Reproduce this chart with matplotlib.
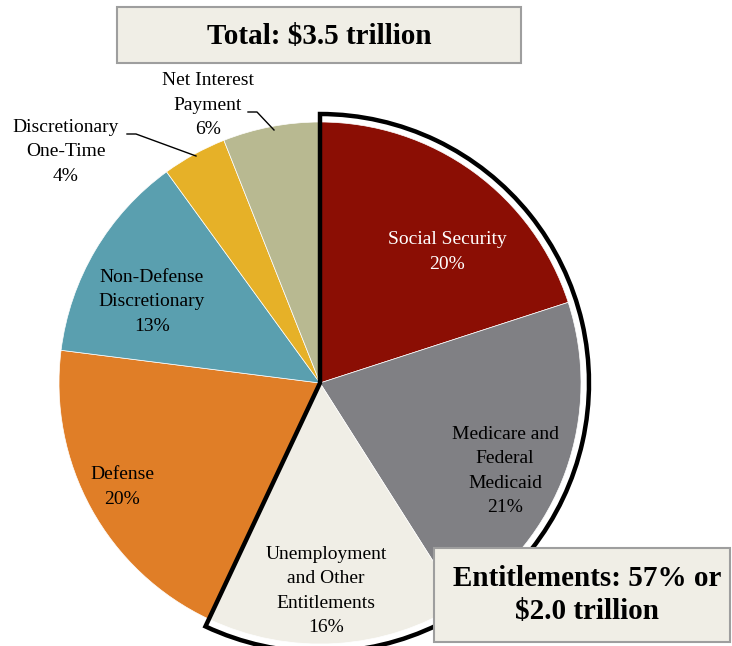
import numpy as np
import matplotlib.pyplot as plt
from matplotlib.patches import Wedge

plt.rcParams['font.family'] = ['Liberation Serif', 'DejaVu Serif']

# slices, clockwise from 12 o'clock
labels = ["Social Security\n20%", "Medicare and\nFederal\nMedicaid\n21%",
          "Unemployment\nand Other\nEntitlements\n16%", "Defense\n20%",
          "Non-Defense\nDiscretionary\n13%", "Discretionary\nOne-Time\n4%",
          "Net Interest\nPayment\n6%"]
shares = [20, 21, 16, 20, 13, 4, 6]
colors = ["#8B0E04", "#808084", "#F0EEE6", "#E07E27", "#5A9FAF", "#E6B128", "#B8B991"]
entitlement_share = 57

W, H = 732, 646
fig = plt.figure(figsize=(W / 100, H / 100), dpi=100)
ax = fig.add_axes([0, 0, 1, 1])

cx, cy, r = 320, H - 383, 261

ax.pie(shares, colors=colors, startangle=90, counterclock=False,
       center=(cx, cy), radius=r,
       wedgeprops=dict(edgecolor="white", linewidth=0.5))

# outline around the entitlement slices
ent_angle = 360 * entitlement_share / sum(shares)
ax.add_patch(Wedge((cx, cy), r + 8, 90 - ent_angle, 90, fill=False,
                   edgecolor="black", linewidth=3.2, zorder=5))

# label positions (pixels from top-left)
label_pos = [(447, 252), (505, 471), (326, 591), (122, 487),
             (152, 302), (66, 152), (208, 105)]
for text, (x, y), c in zip(labels, label_pos, colors):
    col = "white" if c == "#8B0E04" else "black"
    ax.text(x, H - y, text, ha="center", va="center", fontsize=14,
            linespacing=1.55, color=col, zorder=6)

# leader lines
ax.plot([248, 257, 274], [H - 112, H - 112, H - 130], color="black", lw=1, zorder=6)
ax.plot([127, 136, 196], [H - 134, H - 134, H - 156], color="black", lw=1, zorder=6)

# title box
ax.add_patch(plt.Rectangle((117, H - 63), 404, 56, facecolor="#F0EEE6",
                           edgecolor="#9E9E9E", linewidth=1.5, zorder=7))
ax.text(319, H - 36, "Total: $3.5 trillion", ha="center", va="center",
        fontsize=21, fontweight="bold", zorder=8)

# entitlements box
ax.add_patch(plt.Rectangle((434, H - 642), 296, 94, facecolor="#F0EEE6",
                           edgecolor="#9E9E9E", linewidth=1.5, zorder=7))
ax.text(587, H - 595, "Entitlements: 57% or\n$2.0 trillion", ha="center", va="center",
        fontsize=21, fontweight="bold", linespacing=1.25, zorder=8)

ax.set_xlim(0, W)
ax.set_ylim(0, H)
ax.set_aspect("equal")
ax.axis("off")

plt.savefig("out.png", dpi=100)
